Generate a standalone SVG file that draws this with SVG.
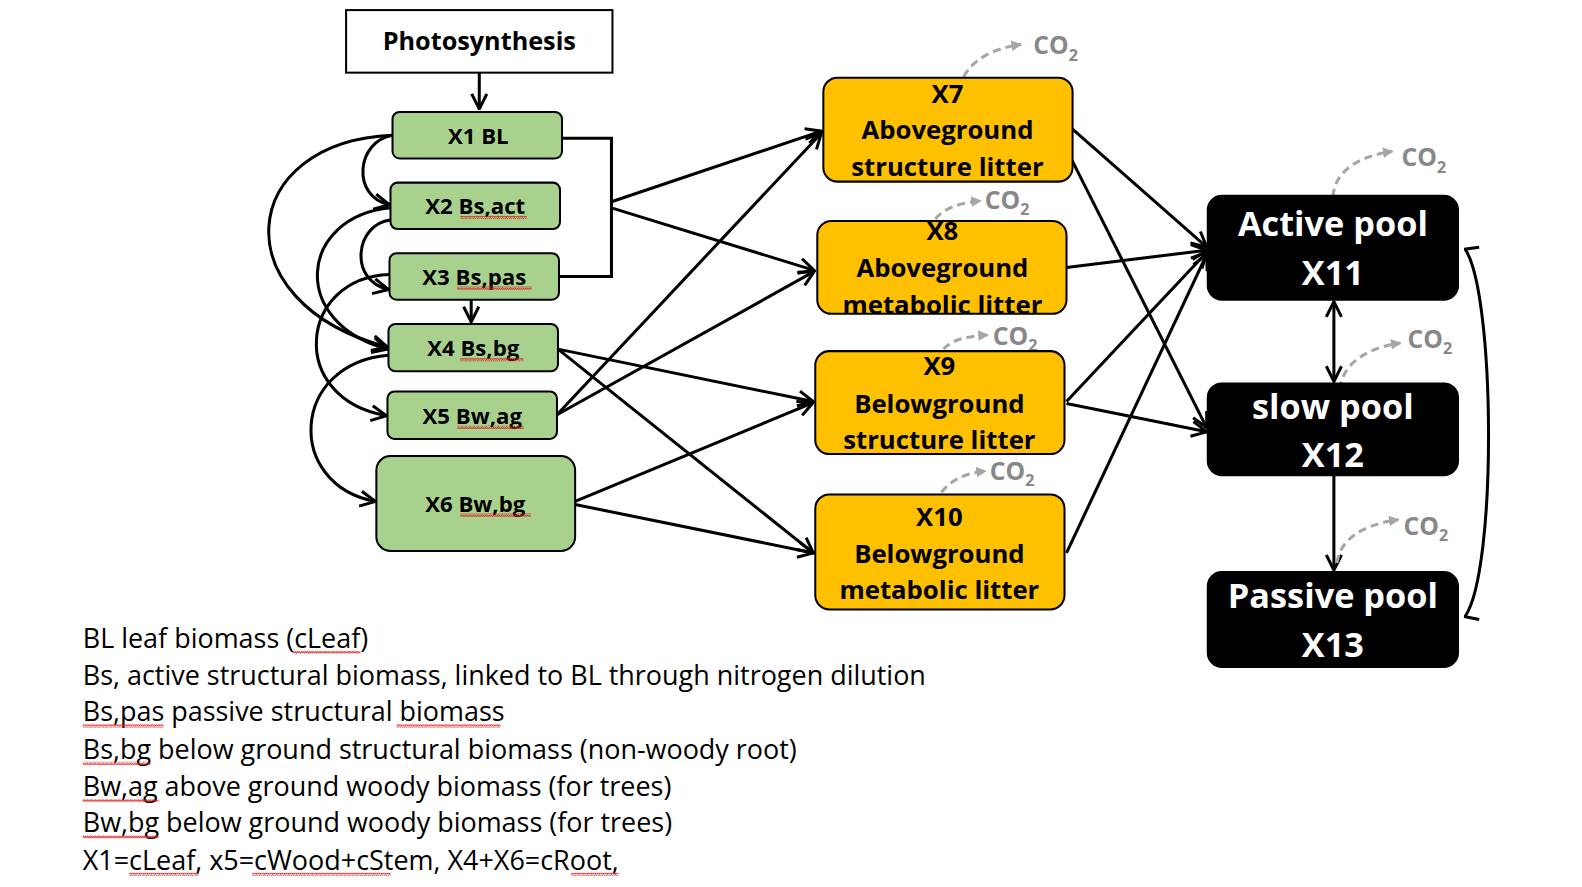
<svg xmlns="http://www.w3.org/2000/svg" width="1582" height="887" viewBox="0 0 1582 887">
<style>
.g{fill:#a9d18e;stroke:#000;stroke-width:2}
.y{fill:#ffc000;stroke:#000;stroke-width:2}
.k{fill:#000;stroke:#000;stroke-width:2}
.t{font-family:"Open Sans","Noto Sans","Liberation Sans",sans-serif;font-weight:bold;text-anchor:middle;fill:#000}
.tg{font-size:22px}
.ty{font-size:25.5px}
.tk{font-size:34px;fill:#fff}
.c{fill:none;stroke:#000;stroke-width:3}
.ca{fill:none;stroke:#000;stroke-width:3;marker-end:url(#ah)}
.co{fill:none;stroke:#a6a6a6;stroke-width:3;stroke-dasharray:8 5;marker-end:url(#gh)}
.ct{font-family:"Open Sans","Noto Sans","Liberation Sans",sans-serif;font-weight:bold;font-size:24.5px;fill:#888}
.ct2{font-size:16px}
.b{font-family:"Open Sans","Noto Sans","Liberation Sans",sans-serif;font-size:26.7px;fill:#000}
.sq{fill:url(#sqp)}
</style>
<defs>
<marker id="ah" viewBox="0 0 12 12" refX="11" refY="6" markerWidth="6" markerHeight="6" markerUnits="strokeWidth" orient="auto-start-reverse">
<path d="M1,1 L11,6 L1,11" fill="none" stroke="#000" stroke-width="2"/>
</marker>
<marker id="gh" viewBox="0 0 10 10" refX="9" refY="5" markerWidth="3.5" markerHeight="3.5" markerUnits="strokeWidth" orient="auto">
<path d="M0,0 L10,5 L0,10 Z" fill="#a6a6a6"/>
</marker>
<pattern id="sqp" x="0" y="0" width="4" height="3" patternUnits="userSpaceOnUse">
<path d="M0,2.5 L1,0.5 L2,2.5 L3,0.5 L4,2.5" fill="none" stroke="#e02020" stroke-width="0.8"/>
</pattern>
<clipPath id="clip8"><rect x="810" y="219" width="247" height="92" rx="14"/></clipPath>
</defs>
<g transform="scale(1.009)">
<g id="connectors">
<path class="ca" d="M475,72 V108"/>
<path class="ca" d="M467,297 V319"/>
<path class="ca" d="M389,134 C353,140 348,195 386,203"/>
<path class="ca" d="M389,134 C235,140 218,300 384,344"/>
<path class="ca" d="M387,206 C296,215 286,320 384,346"/>
<path class="ca" d="M387,218 C352,222 345,278 385,287"/>
<path class="ca" d="M386,272 C296,275 284,395 383,412"/>
<path class="ca" d="M385,352 C288,360 282,480 372,497"/>
<path class="c" d="M557,137 H606 V274 H555"/>
<path class="ca" d="M606,200 L814,130"/>
<path class="ca" d="M606,206 L807,268"/>
<path class="ca" d="M552,411 L814,132"/>
<path class="ca" d="M552,411 L807,269"/>
<path class="ca" d="M553,346 L806,398"/>
<path class="ca" d="M553,346 L806,548"/>
<path class="ca" d="M570,497 L806,399"/>
<path class="ca" d="M570,500 L806,548"/>
<path class="ca" d="M1063,128 L1196,245"/>
<path class="ca" d="M1062,158 L1196,424"/>
<path class="ca" d="M1057,265 L1196,248"/>
<path class="ca" d="M1057,398 L1196,250"/>
<path class="ca" d="M1057,400 L1196,428"/>
<path class="ca" d="M1057,548 L1196,252"/>
<path class="c" d="M1322,299 V378" marker-start="url(#ah)" marker-end="url(#ah)"/>
<path class="ca" d="M1322,471 V565"/>
<path class="c" d="M1452,247 C1482,290 1484,565 1452,611"/>
<path class="c" d="M1451,247 L1466,245"/>
<path class="c" d="M1451,611 L1466,614"/>
<path class="co" d="M955,76 C965,58 985,48 1012,44"/>
<path class="co" d="M927,217 C935,207 950,201 972,199"/>
<path class="co" d="M935,346 C943,337 958,333 979,332"/>
<path class="co" d="M933,488 C942,476 956,469 977,467"/>
<path class="co" d="M1321,195 C1323,170 1345,155 1380,150"/>
<path class="co" d="M1328,386 C1330,362 1352,345 1388,340"/>
<path class="co" d="M1325,558 C1328,535 1350,520 1386,515"/>
</g>

<g id="co2labels">
<text class="ct" x="1024" y="54">CO<tspan class="ct2" dy="6">2</tspan></text>
<text class="ct" x="976" y="207">CO<tspan class="ct2" dy="6">2</tspan></text>
<text class="ct" x="984" y="342">CO<tspan class="ct2" dy="6">2</tspan></text>
<text class="ct" x="981" y="476">CO<tspan class="ct2" dy="6">2</tspan></text>
<text class="ct" x="1389" y="165">CO<tspan class="ct2" dy="6">2</tspan></text>
<text class="ct" x="1395" y="345">CO<tspan class="ct2" dy="6">2</tspan></text>
<text class="ct" x="1391" y="530">CO<tspan class="ct2" dy="6">2</tspan></text>
</g>

<g id="photosynthesis">
<rect x="343" y="10" width="264" height="62" fill="#fff" stroke="#000" stroke-width="2"/>
<text class="t" x="475" y="50" font-size="25">Photosynthesis</text>
</g>

<g id="X1"><rect class="g" x="389" y="111" width="168" height="46" rx="7"/><text class="t tg" x="474" y="143">X1 BL</text></g>
<g id="X2"><rect class="g" x="387" y="181" width="168" height="46" rx="7"/><text class="t tg" x="471" y="212">X2 Bs,act</text><rect class="sq" x="456" y="214" width="66" height="3"/></g>
<g id="X3"><rect class="g" x="386" y="251" width="168" height="46" rx="7"/><text class="t tg" x="470" y="282">X3 Bs,pas</text><rect class="sq" x="453" y="284" width="74" height="3"/></g>
<g id="X4"><rect class="g" x="385" y="321" width="168" height="47" rx="7"/><text class="t tg" x="469" y="353">X4 Bs,bg</text><rect class="sq" x="456" y="355" width="63" height="3"/></g>
<g id="X5"><rect class="g" x="384" y="388" width="168" height="47" rx="7"/><text class="t tg" x="468" y="420">X5 Bw,ag</text><rect class="sq" x="453" y="422" width="66" height="3"/></g>
<g id="X6"><rect class="g" x="373" y="452" width="197" height="94" rx="14"/><text class="t tg" x="471" y="507">X6 Bw,bg</text><rect class="sq" x="456" y="509" width="70" height="3"/></g>

<g id="X7"><rect class="y" x="816" y="77" width="247" height="103" rx="14"/>
<text class="t ty" x="939" y="102">X7</text><text class="t ty" x="939" y="138">Aboveground</text><text class="t ty" x="939" y="174">structure litter</text></g>
<g id="X8"><rect class="y" x="810" y="219" width="247" height="92" rx="14"/>
<g clip-path="url(#clip8)"><text class="t ty" x="934" y="238">X8</text><text class="t ty" x="934" y="275">Aboveground</text><text class="t ty" x="934" y="311">metabolic litter</text></g></g>
<g id="X9"><rect class="y" x="808" y="348" width="247" height="102" rx="14"/>
<text class="t ty" x="931" y="372">X9</text><text class="t ty" x="931" y="409">Belowground</text><text class="t ty" x="931" y="445">structure litter</text></g>
<g id="X10"><rect class="y" x="808" y="490" width="247" height="114" rx="14"/>
<text class="t ty" x="931" y="521">X10</text><text class="t ty" x="931" y="558">Belowground</text><text class="t ty" x="931" y="594">metabolic litter</text></g>

<g id="X11"><rect class="k" x="1197" y="194" width="248" height="103" rx="14"/>
<text class="t tk" x="1321" y="234">Active pool</text><text class="t tk" x="1321" y="282">X11</text></g>
<g id="X12"><rect class="k" x="1197" y="380" width="248" height="91" rx="14"/>
<text class="t tk" x="1321" y="415">slow pool</text><text class="t tk" x="1321" y="463">X12</text></g>
<g id="X13"><rect class="k" x="1197" y="567" width="248" height="94" rx="14"/>
<text class="t tk" x="1321" y="603">Passive pool</text><text class="t tk" x="1321" y="651">X13</text></g>

<g id="legend">
<text class="b" x="82" y="642">BL leaf biomass (cLeaf)</text>
<text class="b" x="82" y="679">Bs, active structural biomass, linked to BL through nitrogen dilution</text>
<text class="b" x="82" y="715">Bs,pas passive structural biomass</text>
<text class="b" x="82" y="752">Bs,bg below ground structural biomass (non-woody root)</text>
<text class="b" x="82" y="789">Bw,ag above ground woody biomass (for trees)</text>
<text class="b" x="82" y="825">Bw,bg below ground woody biomass (for trees)</text>
<text class="b" x="82" y="862">X1=cLeaf, x5=cWood+cStem, X4+X6=cRoot,</text>
<rect class="sq" x="290" y="645" width="67" height="3"/>
<rect class="sq" x="82" y="718" width="80" height="3"/>
<rect class="sq" x="393" y="718" width="103" height="3"/>
<rect class="sq" x="82" y="755" width="67" height="3"/>
<rect class="sq" x="82" y="792" width="75" height="3"/>
<rect class="sq" x="82" y="828" width="75" height="3"/>
<rect class="sq" x="128" y="865" width="69" height="3"/>
<rect class="sq" x="250" y="865" width="137" height="3"/>
<rect class="sq" x="566" y="865" width="47" height="3"/>
</g>
</g>
</svg>
